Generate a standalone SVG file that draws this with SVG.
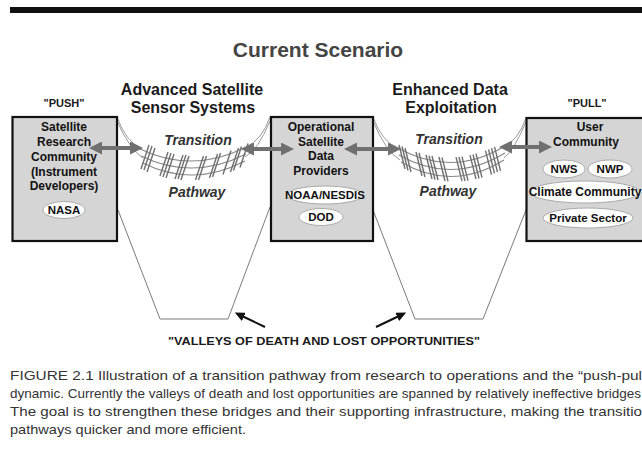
<svg xmlns="http://www.w3.org/2000/svg" width="642" height="464" viewBox="0 0 642 464">
<defs>
<style>
text { font-family: "Liberation Sans", Arial, sans-serif; }
.box { fill:#d5d5d5; stroke:#111; stroke-width:2.2; }
.bt { font-weight:bold; font-size:12px; fill:#111; text-anchor:middle; }
.bt.s { font-size:11.5px; }
.ov { fill:#fff; stroke:#aaa; stroke-width:1; }
.hd { font-weight:bold; font-size:16px; fill:#1a1a1a; text-anchor:middle; }
.q { font-weight:bold; font-size:11px; fill:#1a1a1a; text-anchor:middle; }
.tp { font-weight:bold; font-style:italic; font-size:14px; fill:#333; text-anchor:middle; }
.cable { fill:none; stroke:#9a9a9a; stroke-width:1; }
.deck { fill:none; stroke:#888; stroke-width:1.2; }
.plank { stroke:#707070; stroke-width:1.4; }
.valley { fill:none; stroke:#7a7a7a; stroke-width:1; }
.garrow { stroke:#707070; stroke-width:4; fill:none; marker-start:url(#gh); marker-end:url(#gh); }
.karrow { stroke:#111; stroke-width:2; fill:none; marker-end:url(#kh); }
.cap { font-size:13.5px; fill:#333; }
</style>
<marker id="gh" markerUnits="userSpaceOnUse" markerWidth="13" markerHeight="13" viewBox="0 0 13 13" refX="4" refY="6.5" orient="auto-start-reverse">
<path d="M0,0 L13,6.5 L0,13 z" fill="#707070"/>
</marker>
<marker id="kh" markerUnits="userSpaceOnUse" markerWidth="10" markerHeight="9" viewBox="0 0 10 9" refX="2" refY="4.5" orient="auto">
<path d="M0,0 L10,4.5 L0,9 z" fill="#111"/>
</marker>
</defs>
<rect x="0" y="0" width="642" height="464" fill="#fff"/>
<rect x="10" y="7" width="632" height="6" fill="#111"/>

<text x="318" y="57" font-size="21" font-weight="bold" fill="#444" text-anchor="middle">Current Scenario</text>
<text class="q" x="64" y="107">"PUSH"</text>
<text class="q" x="587" y="107">"PULL"</text>
<text class="hd" x="192" y="95">Advanced Satellite</text>
<text class="hd" x="193" y="113">Sensor Systems</text>
<text class="hd" x="450" y="95">Enhanced Data</text>
<text class="hd" x="451" y="113">Exploitation</text>

<g id="valleys">
<polyline class="valley" points="118,210 160,319 228,319 270,207"/>
<polyline class="valley" points="373,210 415,319 483,319 526,210"/>
</g>

<g id="bridge1">
<path class="cable" d="M117,117 Q126,142 142,149"/>
<path class="cable" d="M117,121 Q130,150 143,158"/>
<path class="cable" d="M270,117 Q262,140 246,147"/>
<path class="cable" d="M270,121 Q258,150 245,157"/>
<path class="deck" d="M140,149 Q193,174 246,147"/>
<path class="deck" d="M141,156 Q193,181 246,154"/>
<path class="deck" d="M143,163 Q193,188 245,161"/>
<g class="plank">
<line x1="149" y1="145" x2="141" y2="169"/>
<line x1="152" y1="146" x2="144" y2="170"/>
<line x1="155" y1="148" x2="147" y2="172"/>
<line x1="168" y1="152" x2="160" y2="176"/>
<line x1="171" y1="153" x2="163" y2="177"/>
<line x1="174" y1="154" x2="166" y2="178"/>
<line x1="183" y1="155" x2="175" y2="179"/>
<line x1="186" y1="155" x2="178" y2="179"/>
<line x1="189" y1="156" x2="181" y2="180"/>
<line x1="203.5" y1="156" x2="195.5" y2="180"/>
<line x1="206.5" y1="156" x2="198.5" y2="180"/>
<line x1="217.5" y1="154" x2="209.5" y2="178"/>
<line x1="220.5" y1="153" x2="212.5" y2="177"/>
<line x1="231" y1="150.5" x2="223" y2="174.5"/>
<line x1="238.5" y1="148" x2="230.5" y2="172"/>
<line x1="241.5" y1="146.5" x2="233.5" y2="170.5"/>
<line x1="248" y1="143.5" x2="240" y2="167.5"/>
</g>
<text class="tp" x="198" y="145">Transition</text>
<text class="tp" x="197" y="197">Pathway</text>
</g>

<g id="bridge2">
<path class="cable" d="M373,117 Q382,142 398,148"/>
<path class="cable" d="M373,121 Q386,152 400,160"/>
<path class="cable" d="M526,118 Q518,140 505,146"/>
<path class="cable" d="M526,122 Q514,150 504,158"/>
<path class="deck" d="M398,148 Q452,178 505,146"/>
<path class="deck" d="M399,155 Q452,185 505,153"/>
<path class="deck" d="M401,162 Q452,192 504,160"/>
<g class="plank">
<line x1="399" y1="145" x2="405" y2="169"/>
<line x1="402" y1="146.5" x2="408" y2="170.5"/>
<line x1="405" y1="148" x2="411" y2="172"/>
<line x1="416" y1="152" x2="422" y2="176"/>
<line x1="419" y1="153" x2="425" y2="177"/>
<line x1="426" y1="155" x2="432" y2="179"/>
<line x1="429" y1="155.6" x2="435" y2="179.6"/>
<line x1="432" y1="156" x2="438" y2="180"/>
<line x1="439" y1="157" x2="445" y2="181"/>
<line x1="442" y1="157.3" x2="448" y2="181.3"/>
<line x1="456" y1="157.2" x2="462" y2="181.2"/>
<line x1="459" y1="157" x2="465" y2="181"/>
<line x1="462" y1="156.6" x2="468" y2="180.6"/>
<line x1="470" y1="155.2" x2="476" y2="179.2"/>
<line x1="473" y1="154.5" x2="479" y2="178.5"/>
<line x1="476" y1="153.7" x2="482" y2="177.7"/>
<line x1="485.5" y1="150.6" x2="491.5" y2="174.6"/>
<line x1="488.5" y1="149.4" x2="494.5" y2="173.4"/>
<line x1="491.5" y1="148.1" x2="497.5" y2="172.1"/>
<line x1="494.5" y1="146.8" x2="500.5" y2="170.8"/>
</g>
<text class="tp" x="449" y="144">Transition</text>
<text class="tp" x="448" y="196">Pathway</text>
</g>

<g id="node-research">
<rect class="box" x="12.5" y="117" width="104.5" height="124"/>
<text class="bt" x="64" y="131">Satellite</text>
<text class="bt" x="64" y="146">Research</text>
<text class="bt" x="64" y="161">Community</text>
<text class="bt" x="64" y="175.5">(Instrument</text>
<text class="bt" x="64" y="190">Developers)</text>
<g id="node-nasa">
<ellipse class="ov" cx="64" cy="210" rx="21" ry="8.5"/>
<text class="bt s" x="64" y="214">NASA</text>
</g>
</g>

<g id="node-operational">
<rect class="box" x="271" y="117" width="102" height="124"/>
<text class="bt" x="321" y="131">Operational</text>
<text class="bt" x="321" y="145.5">Satellite</text>
<text class="bt" x="321" y="160">Data</text>
<text class="bt" x="321" y="175">Providers</text>
<g id="node-noaa">
<ellipse class="ov" cx="325" cy="195" rx="38" ry="9"/>
<text class="bt s" x="325" y="199">NOAA/NESDIS</text>
</g>
<g id="node-dod">
<ellipse class="ov" cx="321" cy="217" rx="22" ry="8.5"/>
<text class="bt s" x="321" y="221">DOD</text>
</g>
</g>

<g id="node-user">
<rect class="box" x="526.5" y="118" width="130" height="123"/>
<text class="bt" x="590" y="131">User</text>
<text class="bt" x="586" y="146">Community</text>
<g id="node-nws">
<ellipse class="ov" cx="564" cy="169" rx="21" ry="9"/>
<text class="bt s" x="564" y="173">NWS</text>
</g>
<g id="node-nwp">
<ellipse class="ov" cx="610" cy="169" rx="22" ry="9"/>
<text class="bt s" x="610" y="173">NWP</text>
</g>
<g id="node-climate">
<ellipse class="ov" cx="585" cy="192" rx="55" ry="11"/>
<text class="bt" x="585" y="196" font-size="10.5">Climate Community</text>
</g>
<g id="node-private">
<ellipse class="ov" cx="588" cy="218" rx="45" ry="10"/>
<text class="bt s" x="588" y="222">Private Sector</text>
</g>
</g>

<g id="connectors">
<line class="garrow" x1="98" y1="148" x2="134" y2="148"/>
<line class="garrow" x1="250" y1="149" x2="285" y2="149"/>
<line class="garrow" x1="353" y1="149" x2="392" y2="149"/>
<line class="garrow" x1="508" y1="147" x2="543" y2="147"/>
<line class="karrow" x1="265" y1="327" x2="242" y2="316"/>
<line class="karrow" x1="376" y1="327" x2="399" y2="316"/>
</g>

<text x="324" y="345" font-size="11.5" font-weight="bold" fill="#1a1a1a" text-anchor="middle" textLength="312" lengthAdjust="spacingAndGlyphs">"VALLEYS OF DEATH AND LOST OPPORTUNITIES"</text>

<g id="caption">
<text class="cap" x="10" y="380" textLength="632" lengthAdjust="spacingAndGlyphs">FIGURE 2.1 Illustration of a transition pathway from research to operations and the “push-pul</text>
<text class="cap" x="10" y="398" textLength="631" lengthAdjust="spacingAndGlyphs">dynamic.  Currently the valleys of death and lost opportunities are spanned by relatively ineffective bridges</text>
<text class="cap" x="10" y="416" textLength="632" lengthAdjust="spacingAndGlyphs">The goal is to strengthen these bridges and their supporting infrastructure, making the transitio</text>
<text class="cap" x="10" y="434" textLength="236" lengthAdjust="spacingAndGlyphs">pathways quicker and more efficient.</text>
</g>
</svg>
